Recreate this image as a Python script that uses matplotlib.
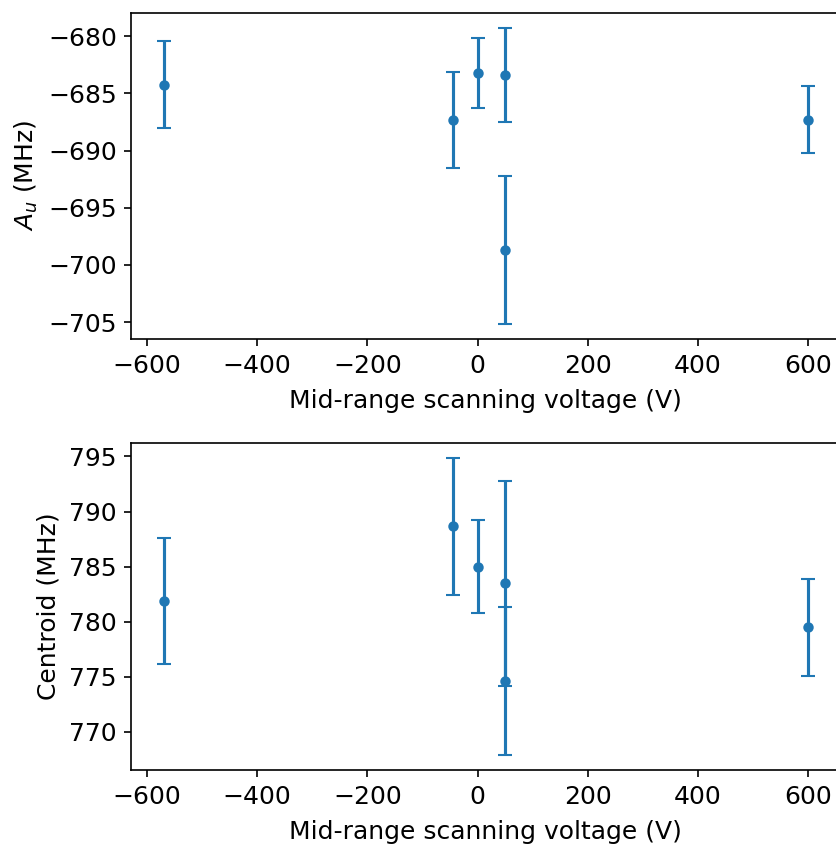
import matplotlib
matplotlib.use('Agg')
import matplotlib.pyplot as plt

plt.rcParams['font.size'] = 12

# mid-range scanning voltage (V)
voltage = [-570, -45, 0, 50, 50, 600]

# hyperfine A_u (MHz) and uncertainty
a_u = [-684.25, -687.37, -683.2, -683.38, -698.7, -687.3]
a_u_err = [3.8, 4.2, 3.05, 4.13, 6.5, 2.95]

# centroid (MHz) and uncertainty
centroid = [781.9, 788.65, 785.0, 783.5, 774.6, 779.5]
centroid_err = [5.7, 6.2, 4.2, 9.3, 6.7, 4.4]

fig = plt.figure(figsize=(836 / 150, 844 / 150), dpi=150)

# axes deliberately run past the right edge, like the original
ax1 = fig.add_axes([0.1571, 0.598, 0.8481, 0.387])
ax2 = fig.add_axes([0.1571, 0.0877, 0.8481, 0.3871])

ax1.errorbar(voltage, a_u, yerr=a_u_err, fmt='o', ms=4, capsize=3.5)
ax1.set_xlabel('Mid-range scanning voltage (V)', labelpad=5.5)
ax1.set_ylabel('$A_u$ (MHz)')

ax2.errorbar(voltage, centroid, yerr=centroid_err, fmt='o', ms=4, capsize=3.5)
ax2.set_xlabel('Mid-range scanning voltage (V)', labelpad=5.5)
ax2.set_ylabel('Centroid (MHz)')

fig.savefig('out.png', dpi=150)
